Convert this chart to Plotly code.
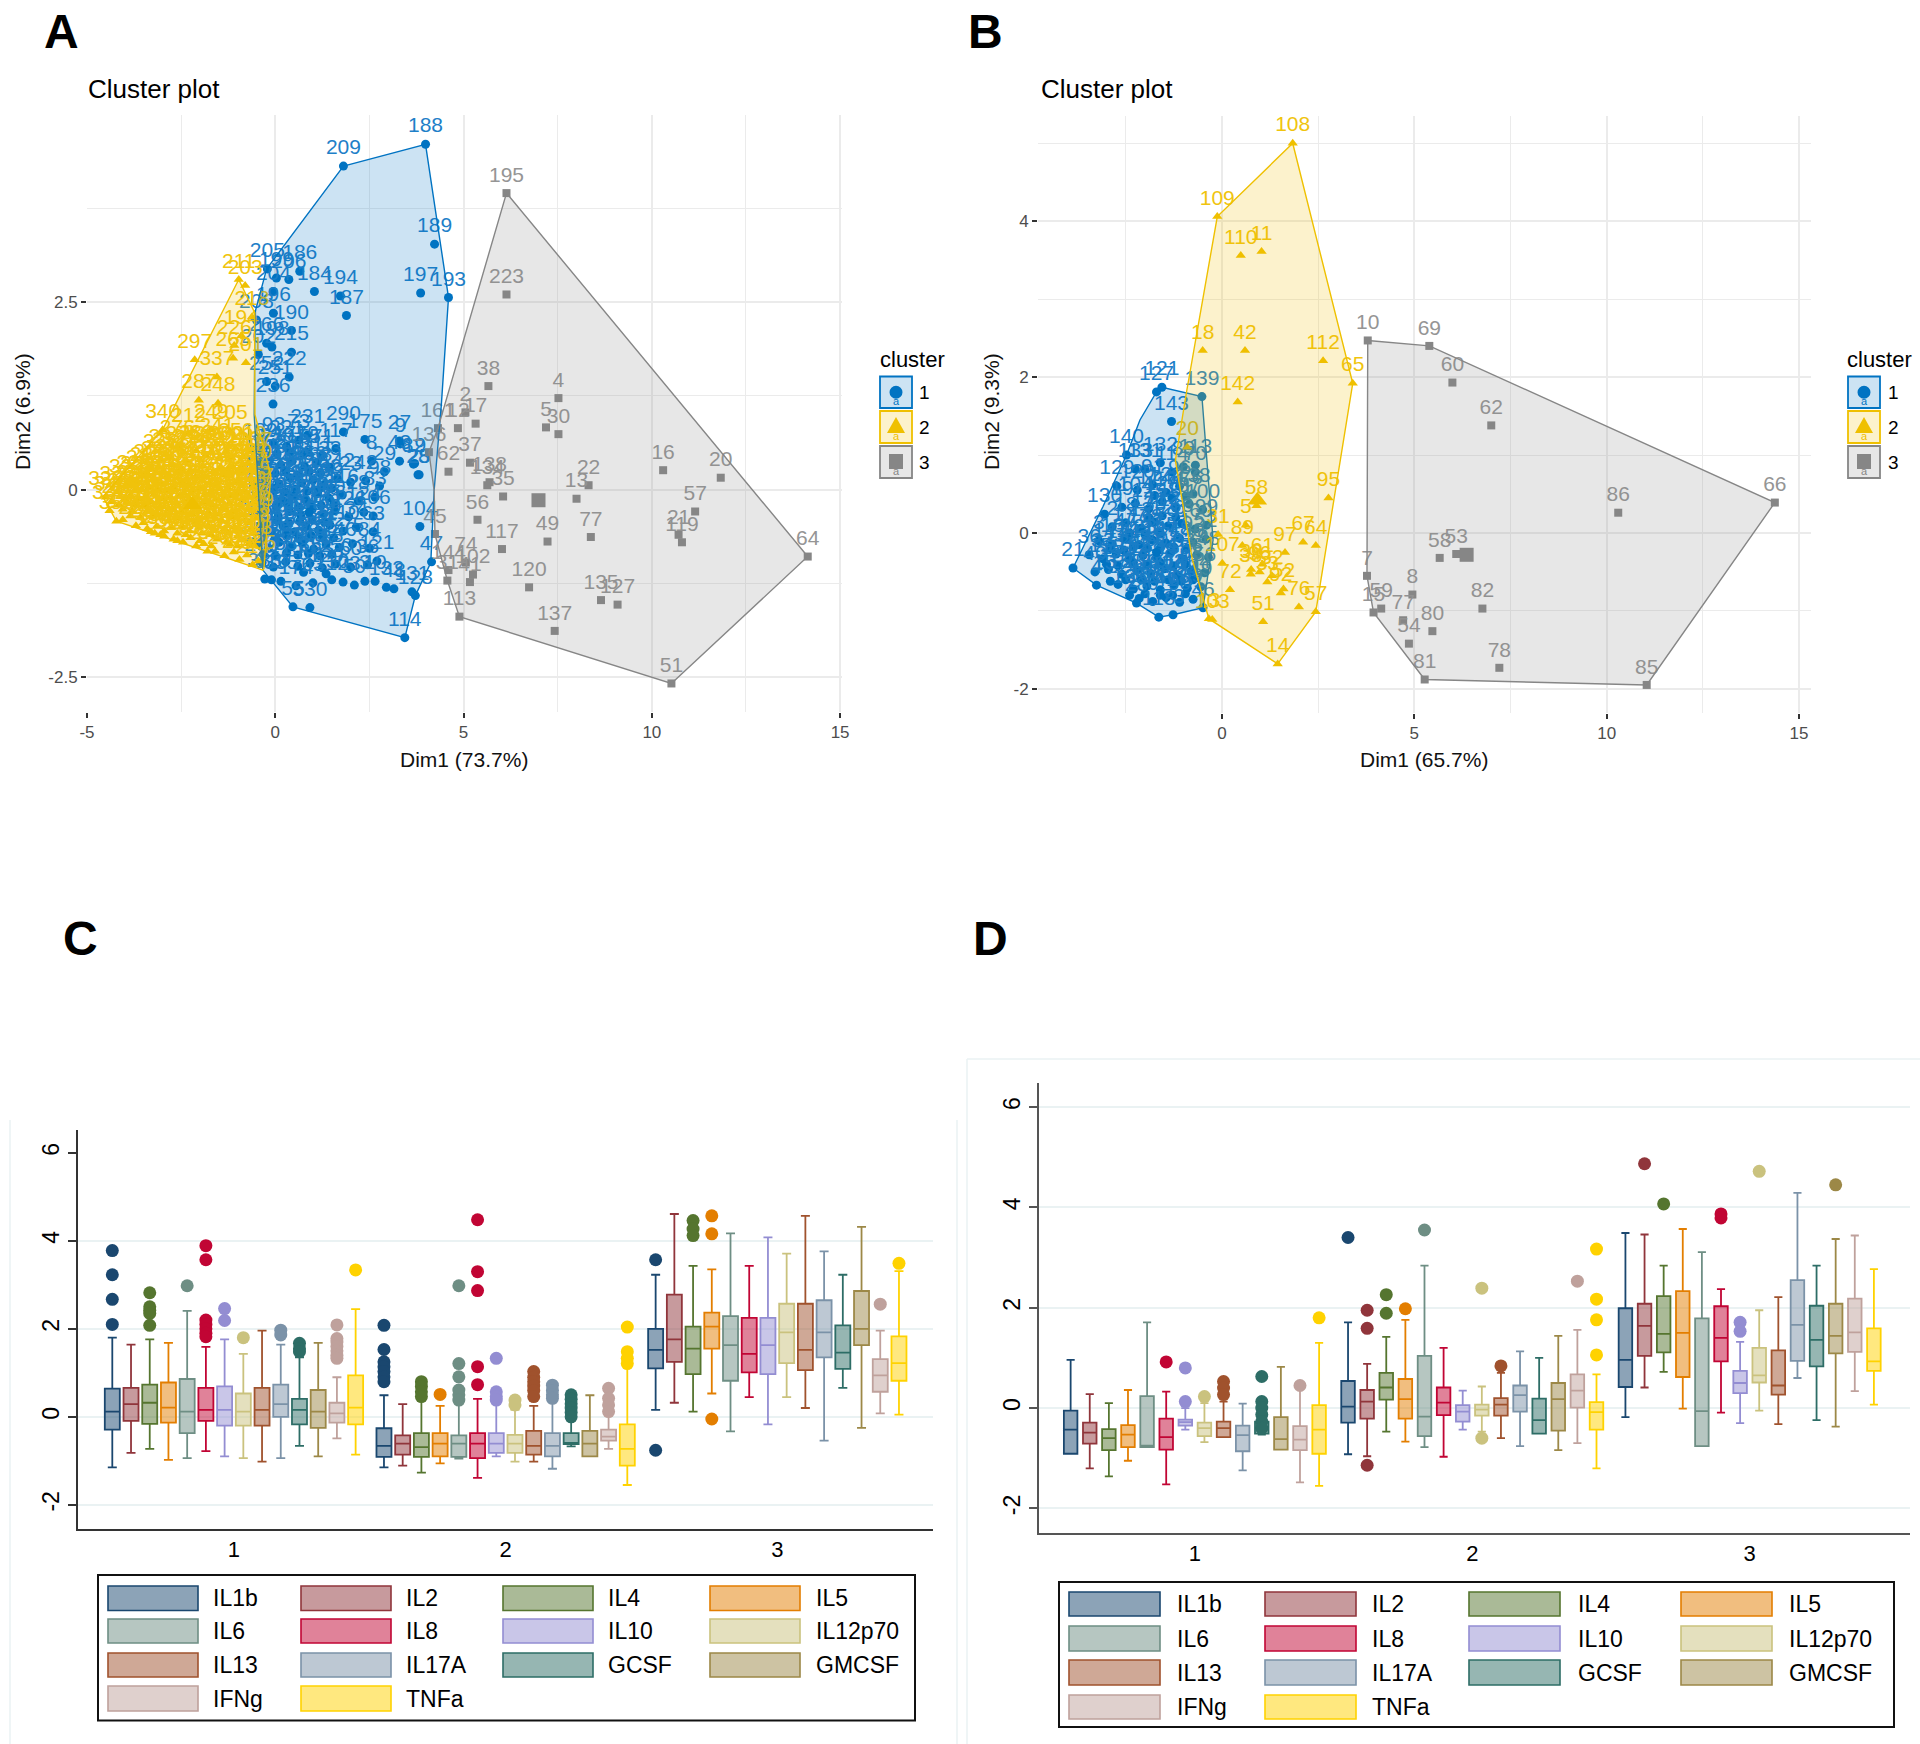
import plotly.graph_objects as go

W, H = 1920, 1744
FONT = "Liberation Sans"
BLUE, YELLOW, GRAY = "#0073C2", "#EFC000", "#868686"
BLUE_T, YELLOW_T, GRAY_T = "#1E80C8", "#F0C40E", "#959595"

# ---------- Panel A data ----------
a_hull1_x = [1.81, 3.99, 4.6, 4.41, 4.22, 4.13, 3.72, 3.44, 0.47, -0.33, -0.56, -0.54, -0.23]
a_hull1_y = [4.31, 4.6, 2.56, 1.13, 0.0, -0.97, -1.41, -1.97, -1.56, -1.07, 1.0, 2.36, 2.94]
a_hull2_x = [-0.97, -0.55, -0.54, -0.12, -0.3, -0.33, -4.22, -4.58, -2.99]
a_hull2_y = [2.8, 2.36, 1.0, 0.2, -1.05, -1.07, -0.42, -0.09, 0.8]
a_hull3_x = [6.14, 14.14, 10.52, 4.89, 4.57, 4.24, 4.22, 4.08, 4.32]
a_hull3_y = [3.95, -0.89, -2.58, -1.69, -1.21, -0.59, -0.02, 0.5, 0.82]

a_c1_x = [1.81, 3.99, 4.23, 4.6, 3.86, 1.89, 1.73, 1.04, 0.65, -0.21, 0.03, 0.36,
          -0.05, -0.05, 0.43, -0.5, -0.23, -0.09, 0.43, -0.45, 0.37, 0.0, -0.23, -0.06,
          1.81, 0.86, 2.38, 3.3, 1.61, 2.56, 3.3, 3.7, 3.82, 2.9, 1.25, 0.85,
          3.79, 3.67, 3.32, 3.84, 4.15, 3.72, 3.63, 3.44, 0.47, 0.92,
          -0.4, -0.05, 0.3, 0.62,
          -0.45, -0.15, 0.15, 0.45, 0.78, 1.1, 1.45,
          -0.5, -0.2, 0.1, 0.4, 0.7, 1.0, 1.3, 1.65, 2.0, 2.4, 2.77,
          -0.42, -0.12, 0.18, 0.5, 0.8, 1.12, 1.42, 1.78, 2.2, 2.65,
          -0.5, -0.22, 0.08, 0.38, 0.68, 0.98, 1.28, 1.58, 1.95, 2.35, 2.6,
          -0.4, -0.1, 0.2, 0.52, 0.82, 1.15, 1.45, 1.8, 2.15, 2.6,
          -0.48, -0.18, 0.1, 0.42, 0.72, 1.02, 1.35, 1.7, 2.05, 2.5,
          -0.35, -0.05, 0.28, 0.6, 0.92, 1.25, 1.6, 2.0, 2.45, 2.7,
          0.15, 0.55, 1.0, 1.5, 2.1, 1.8,
          0.05, 0.4, 0.75,
          -0.3, 0.0, 0.28, 0.6, 0.9, 1.2,
          -0.35, -0.05, 0.25, 0.55, 0.85, 1.15, 1.5,
          -0.28, 0.02, 0.32, 0.62, 0.92, 1.22, 1.55,
          -0.25, 0.05, 0.35, 0.65, 0.98, 1.3,
          -0.3, 0.0, 0.3, 0.62, 0.95, 1.25, 1.55,
          -0.32, 0.0, 0.3, 0.6, 0.88, 1.18, 1.5,
          -0.28, -0.1, 0.75, 1.35, 2.38, 2.65, 2.95, 3.15]
a_c1_y = [4.31, 4.6, 3.27, 2.56, 2.62, 2.32, 2.58, 2.64, 2.91, 2.94, 2.82, 2.8,
          2.64, 2.35, 2.12, 2.26, 1.95, 1.9, 1.83, 1.8, 1.5, 1.38, 1.44, 1.14,
          0.77, 0.73, 0.67, 0.65, 0.55, 0.38, 0.38, 0.35, 0.2, 0.24, 0.46, 0.5,
          0.2, 0.34, 0.61, -0.49, -0.96, -1.41, -1.36, -1.97, -1.56, -1.57,
          0.55, 0.62, 0.58, 0.66,
          0.34, 0.4, 0.33, 0.38, 0.31, 0.36, 0.3,
          0.1, 0.14, 0.08, 0.16, 0.09, 0.13, 0.07, 0.15, 0.1, 0.12, 0.05,
          -0.12, -0.06, -0.14, -0.08, -0.13, -0.05, -0.11, -0.07, -0.15, -0.1,
          -0.33, -0.27, -0.35, -0.29, -0.34, -0.26, -0.32, -0.28, -0.36, -0.3, -0.35,
          -0.5, -0.55, -0.48, -0.56, -0.49, -0.54, -0.47, -0.55, -0.5, -0.56,
          -0.72, -0.78, -0.7, -0.76, -0.71, -0.79, -0.73, -0.77, -0.72, -0.78,
          -0.97, -1.03, -0.96, -1.02, -0.98, -1.04, -0.99, -1.03, -1.0, -0.95,
          -1.22, -1.28, -1.24, -1.2, -1.27, -1.23,
          0.48, 0.5, 0.47,
          0.24, 0.22, 0.25, 0.2, 0.24, 0.22,
          0.0, 0.02, -0.03, 0.01, -0.02, 0.0, 0.02,
          -0.2, -0.22, -0.18, -0.23, -0.19, -0.21, -0.2,
          -0.42, -0.41, -0.44, -0.42, -0.4, -0.43,
          -0.62, -0.64, -0.6, -0.65, -0.61, -0.63, -0.64,
          -0.86, -0.88, -0.84, -0.87, -0.85, -0.88, -0.86,
          -1.19, -1.2, -1.1, -1.12, -1.22, -1.22, -1.3, -1.32]
a_c1_lab = [209, 188, 189, 193, 197, 187, 194, 184, 186, 205, 199, 206,
            204, 196, 190, 208, 266, 198, 215, 202, 222, 251, 252, 236,
            290, 231, 175, 27, 117, 8, 43, 19, 25, 29, 71, 79,
            28, 82, 9, 104, 47, 128, 131, 114, 55, 530,
            189, 93, 221, 73,
            94, 268, 161, 230, 81, 311, 33,
            224, 301, 142, 46, 233, 116, 232, 142, 23, 42, 98,
            26, 91, 170, 54, 255, 143, 52, 116, 28, 83,
            263, 158, 90, 72, 143, 240, 178, 76, 126, 124, 106,
            267, 176, 24, 61, 145, 127, 89, 110, 34, 63,
            269, 182, 66, 118, 235, 167, 95, 246, 75, 84,
            230, 147, 53, 150, 88, 65, 250, 60, 36, 121,
            335, 174, 63, 130, 50, 123,
            239, 171, 155,
            264, 183, 112, 92, 156, 68,
            277, 192, 108, 58, 149, 85, 39,
            281, 165, 97, 67, 140, 86, 40,
            288, 172, 109, 69, 146, 59,
            299, 191, 115, 70, 152, 44, 32,
            303, 177, 103, 74, 148, 78, 18,
            333, 310, 6, 129, 3, 10, 132, 48]

a_c2_x = [-0.97, -0.8, -0.62, -0.9, -1.09, -2.14, -1.55, -1.12, -0.78, -2.03, -1.52, -2.99, -2.3, -1.7, -1.2,
          -2.6, -2.1, -1.55, -1.05, -0.7,
          -3.05, -2.72, -2.35, -1.92, -1.5, -1.12, -0.72,
          -3.5, -3.18, -2.85, -2.48, -2.12, -1.75, -1.38, -1.0, -0.65,
          -4.2, -3.85, -3.55, -3.22, -2.9, -2.55, -2.2, -1.85, -1.5, -1.18, -0.82, -0.5,
          -4.5, -4.05, -3.72, -3.4, -3.05, -2.7, -2.35, -2.0, -1.65, -1.3, -0.95, -0.6,
          -4.05, -3.5, -3.15, -2.82, -2.45, -2.1, -1.78, -1.42, -1.08, -0.72,
          -2.95, -2.6, -2.25, -1.9, -1.55, -1.2, -0.85, -0.55,
          -1.8, -1.35, -0.95, -0.6,
          -2.9, -2.45, -1.85, -1.3, -0.85, -0.55,
          -3.3, -2.98, -2.6, -2.25, -1.65, -1.25, -0.88, -0.55,
          -3.95, -3.65, -3.35, -3.02, -2.7, -2.33, -1.98, -1.6, -1.25, -0.9, -0.58,
          -4.35, -3.95, -3.6, -3.3, -2.98, -2.62, -2.28, -1.92, -1.58, -1.22, -0.88, -0.53,
          -4.22, -3.85, -3.58, -3.25, -2.9, -2.55, -2.2, -1.85, -1.5, -1.15, -0.8, -0.5,
          -3.3, -2.95, -2.6, -2.28, -1.95, -1.62, -1.25, -0.92, -0.58,
          -2.1, -1.6, -1.1, -0.75, -3.2, -2.7, -0.45,
          -3.75, -3.4, -3.1, -2.8, -2.5, -2.2, -2.0, -1.7, -1.45, -1.15, -0.95, -0.65,
          -4.0, -3.75, -3.45, -3.12, -2.78, -2.42, -2.08, -1.72, -1.35, -1.02, -0.7,
          -4.4, -4.15, -3.8, -3.48, -3.15, -2.82, -2.48, -2.12, -1.78, -1.42, -1.08, -0.72,
          -3.7, -3.4, -3.05, -2.75, -2.38, -2.02, -1.7, -1.35, -1.0, -0.65,
          -2.45, -2.0, -1.7, -1.3, -1.0, -0.7]
a_c2_y = [2.8, 2.72, 2.3, 2.05, 1.92, 1.73, 1.5, 1.75, 1.69, 1.19, 1.15, 0.8, 0.75, 0.8, 0.78,
          0.58, 0.52, 0.61, 0.55, 0.5,
          0.4, 0.33, 0.38, 0.31, 0.42, 0.3, 0.36,
          0.18, 0.12, 0.2, 0.1, 0.17, 0.09, 0.19, 0.11, 0.16,
          -0.03, -0.08, 0.0, -0.06, -0.02, -0.09, -0.01, -0.07, 0.01, -0.08, -0.03, -0.06,
          -0.1, -0.26, -0.2, -0.28, -0.22, -0.27, -0.19, -0.29, -0.21, -0.27, -0.2, -0.28,
          -0.4, -0.44, -0.49, -0.42, -0.5, -0.43, -0.48, -0.41, -0.5, -0.44,
          -0.62, -0.68, -0.64, -0.72, -0.66, -0.73, -0.67, -0.75,
          -0.82, -0.88, -0.93, -1.0,
          0.47, 0.5, 0.46, 0.51, 0.44, 0.42,
          0.27, 0.24, 0.22, 0.26, 0.24, 0.27, 0.22, 0.26,
          0.06, 0.1, 0.04, 0.08, 0.03, 0.06, 0.02, 0.07, 0.02, 0.05, 0.04,
          -0.16, -0.17, -0.13, -0.16, -0.12, -0.18, -0.12, -0.17, -0.13, -0.18, -0.12, -0.17,
          -0.42, -0.35, -0.37, -0.35, -0.34, -0.38, -0.33, -0.37, -0.33, -0.37, -0.34, -0.38,
          -0.56, -0.55, -0.58, -0.55, -0.58, -0.54, -0.58, -0.55, -0.58,
          -0.75, -0.82, -0.83, -0.87, -0.58, -0.66, -0.95,
          0.12, 0.22, 0.3, 0.42, 0.28, 0.45, 0.4, 0.5, 0.3, 0.42, 0.28, 0.28,
          -0.12, -0.02, -0.1, 0.0, -0.1, -0.05, -0.1, -0.03, -0.1, -0.06, -0.1,
          -0.28, -0.2, -0.28, -0.2, -0.33, -0.26, -0.3, -0.25, -0.3, -0.25, -0.3, -0.26,
          -0.48, -0.52, -0.6, -0.5, -0.6, -0.5, -0.6, -0.52, -0.62, -0.52,
          -0.7, -0.68, -0.75, -0.7, -0.75, -0.72]
a_c2_lab = [211, 203, 218, 194, 226, 297, 337, 265, 201, 287, 248, 340, 212, 249, 205,
            276, 283, 241, 256, 219,
            327, 298, 305, 278, 284, 259, 229,
            316, 334, 293, 304, 282, 271, 245, 258, 227,
            329, 338, 312, 321, 296, 286, 273, 261, 244, 239, 225, 217,
            339, 332, 324, 318, 302, 291, 280, 274, 253, 247, 237, 216,
            336, 328, 319, 306, 294, 285, 270, 254, 243, 228,
            309, 295, 279, 262, 257, 238, 220, 213,
            272, 260, 242, 214,
            292, 275, 289, 200, 210, 207,
            307, 300, 308, 313, 314, 315, 317, 320,
            322, 323, 325, 326, 330, 331, 341, 342, 343, 344, 345,
            346, 347, 348, 349, 350, 351, 352, 353, 354, 355, 356, 357,
            358, 359, 360, 361, 362, 363, 364, 365, 366, 367, 368, 369,
            370, 371, 372, 373, 374, 375, 376, 377, 378,
            379, 380, 381, 382, 383, 384, 385,
            228, 235, 243, 252, 261, 274, 285, 296, 305, 318, 326, 337,
            213, 224, 238, 247, 256, 269, 278, 289, 302, 314, 323,
            331, 219, 229, 241, 253, 264, 277, 288, 299, 307, 316, 328,
            221, 233, 246, 258, 267, 279, 292, 303, 315, 325,
            234, 248, 259, 272, 283, 294]

a_c3_x = [6.14, 6.14, 5.66, 7.52, 5.05, 5.32, 4.85, 7.19, 7.52, 5.17, 4.6, 4.08, 5.69, 5.63, 6.05,
          8.32, 8.0, 10.3, 11.83, 11.15, 10.71, 10.8, 14.14, 5.37, 4.24, 6.02, 7.23, 8.38, 6.74,
          8.65, 9.09, 7.42, 10.52, 4.89, 5.06, 5.25, 5.17, 4.6, 4.57, 4.32]
a_c3_y = [3.95, 2.6, 1.38, 1.22, 1.03, 0.88, 0.82, 0.83, 0.74, 0.36, 0.24, 0.5, 0.1, 0.06, -0.09,
          0.06, -0.12, 0.26, 0.16, -0.29, -0.6, -0.7, -0.89, -0.4, -0.59, -0.79, -0.69, -0.63, -1.3,
          -1.47, -1.53, -1.88, -2.58, -1.69, -0.97, -1.13, -1.23, -1.07, -1.21, 0.82]
a_c3_lab = [195, 223, 38, 4, 2, 17, 12, 5, 30, 37, 62, 136, 138, 134, 35,
            22, 13, 16, 20, 57, 21, 119, 64, 56, 45, 117, 49, 77, 120,
            135, 127, 137, 51, 113, 74, 102, 41, 144, 31, 161]
a_center_x = [0.9, -2.2, 6.99]
a_center_y = [-0.3, -0.2, -0.14]

# ---------- Panel B data ----------
b_hull1_x = [-3.87, -3.26, -2.22, -1.64, -1.27, -0.49, -0.23, -0.52, -1.56, -1.7, -2.13, -2.48, -3.09]
b_hull1_y = [-0.45, -0.67, -0.9, -1.08, -1.05, -0.96, -0.09, 1.75, 1.87, 1.81, 1.45, 1.0, 0.34]
b_hull2_x = [1.84, 3.4, 2.44, 1.45, -0.34, -0.77, -1.21, -0.93, -0.12]
b_hull2_y = [5.0, 1.92, -1.01, -1.68, -1.1, -0.34, 0.93, 1.78, 4.06]
b_hull3_x = [3.79, 5.39, 14.37, 11.04, 5.27, 3.94, 3.77]
b_hull3_y = [2.47, 2.4, 0.39, -1.95, -1.88, -1.02, -0.55]

b_c1_x = [-1.56, -1.7, -0.52, -1.31, -0.69, -0.69, -2.48, -2.25, -2.73, -3.05, -3.87, -3.26,
          -2.22, -1.64, -1.27, -0.49,
          -2.2, -1.8, -1.45, -1.1, -0.75,
          -2.6, -2.25, -1.9, -1.55, -1.2, -0.85, -0.5,
          -2.85, -2.5, -2.1, -1.75, -1.4, -1.05, -0.7, -0.4,
          -3.2, -2.85, -2.5, -2.15, -1.8, -1.45, -1.1, -0.75, -0.42,
          -3.45, -3.1, -2.75, -2.4, -2.05, -1.7, -1.35, -1.0, -0.65, -0.35,
          -3.3, -2.95, -2.6, -2.2, -1.85, -1.5, -1.15, -0.8, -0.45,
          -2.7, -2.3, -1.95, -1.6, -1.25, -0.9, -0.55,
          -2.15, -1.8, -1.45, -1.1, -0.75,
          -2.0, -1.6, -1.3, -1.0,
          -2.9, -2.55, -2.3, -1.95, -1.6, -1.25, -0.9,
          -3.0, -2.7, -2.3, -1.95, -1.6, -1.25, -0.95,
          -2.9, -2.5, -2.1, -1.75, -1.4, -1.05, -0.75,
          -2.4, -2.0, -1.6, -1.28, -0.95,
          -1.9, -1.55, -1.2, -1.75, -1.3, -0.95, -2.4, -2.0, -1.6]
b_c1_y = [1.87, 1.81, 1.75, 1.43, 0.87, 0.78, 1.0, 0.82, 0.6, 0.24, -0.45, -0.67,
          -0.9, -1.08, -1.05, -0.96,
          0.55, 0.62, 0.52, 0.6, 0.5,
          0.33, 0.38, 0.31, 0.4, 0.32, 0.37, 0.3,
          0.08, 0.13, 0.06, 0.14, 0.09, 0.12, 0.05, 0.1,
          -0.1, -0.14, -0.08, -0.15, -0.09, -0.13, -0.07, -0.12, -0.08,
          -0.28, -0.33, -0.27, -0.34, -0.29, -0.32, -0.26, -0.33, -0.28, -0.31,
          -0.5, -0.47, -0.53, -0.48, -0.52, -0.46, -0.54, -0.49, -0.51,
          -0.66, -0.72, -0.68, -0.73, -0.67, -0.71, -0.69,
          -0.84, -0.88, -0.83, -0.89, -0.85,
          0.82, 0.9, 0.78, 0.85,
          -0.2, -0.22, -0.18, -0.2, -0.19, -0.18, -0.2,
          -0.4, -0.42, -0.38, -0.41, -0.38, -0.42, -0.4,
          -0.62, -0.6, -0.6, -0.62, -0.6, -0.62, -0.6,
          -0.8, -0.78, -0.8, -0.8, -0.78,
          0.2, 0.22, 0.2, 0.48, 0.45, 0.47, 0.0, -0.02, 0.0]
b_c1_lab = [121, 127, 139, 143, 113, 70, 140, 133, 129, 130, 21, 4,
            28, 118, 73, 46,
            120, 91, 122, 96, 138,
            19, 104, 125, 128, 101, 87, 100,
            2, 18, 12, 35, 126, 68, 160, 99,
            3, 16, 47, 123, 37, 55, 71, 92, 52,
            36, 33, 17, 24, 134, 50, 75, 83, 29, 48,
            40, 39, 25, 44, 93, 88, 74, 63, 56,
            22, 26, 136, 98, 79, 84, 49,
            27, 6, 41, 90, 61,
            131, 132, 114, 89,
            141, 144, 145, 146, 147, 148, 149,
            150, 151, 152, 153, 154, 155, 156,
            157, 158, 159, 161, 162, 163, 164,
            165, 166, 167, 168, 169,
            171, 172, 173, 174, 175, 176, 177, 178, 179]

b_c2_x = [1.84, -0.12, 0.49, 1.03, -0.5, 0.6, 2.63, 3.4, 0.41, 2.77, 2.11, 2.44, 1.64, 2.44, 2.0, 1.07, 1.45,
          -0.34, 0.21, 0.01, -0.25, 0.53, 0.75, 0.98, 1.05, 1.18, 1.3, 1.53, 1.6, 0.76, -0.9, 0.62, 0.9, -0.1]
b_c2_y = [5.0, 4.06, 3.56, 3.61, 2.34, 2.34, 2.21, 1.92, 1.68, 0.45, -0.12, -0.16, -0.25, -1.01, -0.95, -1.14, -1.68,
          -1.1, -0.73, -0.39, -1.11, -0.16, -0.53, -0.5, -0.4, -0.63, -0.55, -0.77, -0.72, -0.47, 1.1, 0.1, 0.35, -0.02]
b_c2_lab = [108, 109, 110, 11, 18, 42, 112, 65, 142, 95, 67, 64, 97, 57, 76, 51, 14,
            13, 72, 107, 103, 89, 38, 96, 61, 33, 32, 92, 52, 39, 20, 5, 58, 31]

b_c3_x = [14.37, 11.04, 5.27, 7.21, 3.79, 5.39, 5.99, 7.0, 10.3, 6.09, 5.66, 6.77, 4.95, 3.77, 4.14, 3.94, 4.71, 5.47, 4.86]
b_c3_y = [0.39, -1.95, -1.88, -1.73, 2.47, 2.4, 1.93, 1.38, 0.26, -0.27, -0.32, -0.97, -0.79, -0.55, -0.97, -1.02, -1.12, -1.26, -1.42]
b_c3_lab = [66, 85, 81, 78, 10, 69, 60, 62, 86, 53, 58, 82, 8, 7, 59, 15, 77, 80, 54]
b_center_x = [-1.7, 0.92, 6.36]
b_center_y = [-0.25, 0.42, -0.28]

# ---------- Box plots ----------
series = ["IL1b", "IL2", "IL4", "IL5", "IL6", "IL8", "IL10", "IL12p70", "IL13", "IL17A", "GCSF", "GMCSF", "IFNg", "TNFa"]
colors = ["#1A476F", "#90353B", "#55752F", "#E37E00", "#6E8E84", "#C10534", "#938DD2",
          "#CAC27E", "#A0522D", "#7B92A8", "#2D6D66", "#9C8847", "#BFA19C", "#FFD200"]
groups = [1, 2, 3]

c_g1_high = [1.80, 1.64, 1.76, 1.68, 2.41, 1.59, 1.76, 1.43, 1.96, 1.64, 1.35, 1.68, 0.9, 2.45]
c_g1_q3 = [0.64, 0.66, 0.73, 0.78, 0.86, 0.66, 0.69, 0.53, 0.66, 0.73, 0.41, 0.61, 0.32, 0.94]
c_g1_med = [0.12, 0.29, 0.32, 0.21, 0.12, 0.16, 0.16, 0.12, 0.16, 0.29, 0.16, 0.12, 0.08, 0.21]
c_g1_q1 = [-0.29, -0.09, -0.16, -0.13, -0.37, -0.09, -0.2, -0.2, -0.2, 0.0, -0.17, -0.25, -0.13, -0.17]
c_g1_low = [-1.15, -0.82, -0.73, -0.98, -0.94, -0.78, -0.9, -0.94, -1.02, -0.94, -0.66, -0.9, -0.49, -0.86]
c_g1_out = [[3.78, 3.23, 2.67, 2.1], [], [2.82, 2.5, 2.42, 2.35, 2.08], [], [2.98],
            [3.89, 3.57, 2.2, 2.1, 2.0, 1.9, 1.82], [2.46, 2.19], [1.8], [], [1.97, 1.86],
            [1.67, 1.55, 1.48], [], [2.09, 1.78, 1.7, 1.6, 1.5, 1.4, 1.33], [3.34]]

c_g2_high = [0.49, 0.29, 0.41, 0.25, 0.32, 0.41, 0.31, 0.16, 0.25, 0.33, -0.07, 0.49, 0.05, 1.14]
c_g2_q3 = [-0.26, -0.42, -0.37, -0.37, -0.42, -0.37, -0.37, -0.41, -0.32, -0.37, -0.37, -0.32, -0.29, -0.17]
c_g2_med = [-0.66, -0.61, -0.69, -0.61, -0.61, -0.61, -0.61, -0.61, -0.66, -0.66, -0.59, -0.61, -0.45, -0.73]
c_g2_q1 = [-0.91, -0.86, -0.91, -0.9, -0.91, -0.94, -0.82, -0.82, -0.86, -0.9, -0.62, -0.9, -0.54, -1.11]
c_g2_low = [-1.15, -1.11, -1.27, -1.06, -0.95, -1.39, -0.9, -1.02, -1.02, -1.18, -0.67, -0.9, -0.73, -1.55]
c_g2_out = [[2.08, 1.53, 1.25, 1.14, 1.03, 0.91, 0.8], [], [0.8, 0.69, 0.57, 0.46], [0.51],
            [6.82, 2.98, 1.21, 0.91, 0.61, 0.5, 0.38], [4.48, 3.3, 2.87, 1.14, 0.73], [1.33, 0.57, 0.46, 0.38],
            [0.38, 0.27], [1.03, 0.9, 0.8, 0.7, 0.6, 0.46], [0.72, 0.6, 0.5, 0.42],
            [0.5, 0.4, 0.3, 0.2, 0.1, 0.0], [], [0.65, 0.42, 0.27, 0.12], [2.04, 1.48, 1.33, 1.21]]

c_g3_high = [3.23, 4.61, 3.43, 3.35, 4.17, 3.43, 4.08, 3.71, 4.57, 3.76, 3.23, 4.32, 1.96, 3.31]
c_g3_q3 = [2.0, 2.78, 2.05, 2.37, 2.29, 2.25, 2.25, 2.57, 2.57, 2.65, 2.08, 2.86, 1.31, 1.83]
c_g3_med = [1.52, 1.76, 1.55, 2.05, 1.63, 1.43, 1.63, 1.92, 1.52, 1.92, 1.46, 2.0, 0.94, 1.22]
c_g3_q1 = [1.1, 1.25, 0.97, 1.55, 0.82, 1.01, 0.97, 1.22, 1.06, 1.35, 1.09, 1.63, 0.57, 0.82]
c_g3_low = [0.16, 0.32, 0.12, 0.53, -0.33, 0.45, -0.17, 0.45, 0.2, -0.54, 0.66, -0.25, 0.08, 0.05]
c_g3_out = [[3.57, -0.76], [6.82], [4.46, 4.27, 4.12], [4.57, 4.16, -0.05], [], [], [], [], [], [], [], [], [2.56], [3.49]]

d_g1_high = [0.96, 0.28, 0.1, 0.36, 1.71, 0.33, 0.0, 0.1, 0.13, 0.09, -0.03, 0.82, 0.4, 1.3]
d_g1_q3 = [-0.05, -0.29, -0.42, -0.34, 0.24, -0.21, -0.23, -0.29, -0.27, -0.35, -0.27, -0.18, -0.36, 0.06]
d_g1_med = [-0.43, -0.49, -0.6, -0.53, -0.75, -0.58, -0.28, -0.4, -0.4, -0.54, -0.4, -0.62, -0.63, -0.43]
d_g1_q1 = [-0.91, -0.71, -0.84, -0.78, -0.78, -0.83, -0.35, -0.56, -0.58, -0.86, -0.51, -0.83, -0.84, -0.91]
d_g1_low = [-0.91, -1.2, -1.36, -1.05, -0.78, -1.52, -0.43, -0.68, -0.58, -1.24, -0.53, -0.83, -1.48, -1.55]
d_g1_out = [[], [], [], [], [], [0.92], [0.8, 0.13], [0.23], [0.53, 0.4, 0.27], [],
            [0.63, 0.13, 0.0, -0.13, -0.27, -0.4], [], [0.45], [1.8]]

d_g2_high = [1.71, 0.88, 1.42, 1.76, 2.84, 1.2, 0.35, 0.43, 0.7, 1.13, 1.0, 1.44, 1.56, 0.67]
d_g2_q3 = [0.54, 0.36, 0.7, 0.58, 1.04, 0.41, 0.06, 0.07, 0.2, 0.45, 0.19, 0.5, 0.67, 0.12]
d_g2_med = [0.03, 0.13, 0.41, 0.18, -0.17, 0.11, -0.07, -0.03, 0.07, 0.26, -0.24, 0.18, 0.35, -0.08]
d_g2_q1 = [-0.29, -0.21, 0.17, -0.21, -0.56, -0.14, -0.27, -0.15, -0.15, -0.07, -0.51, -0.45, 0.01, -0.43]
d_g2_low = [-0.92, -0.96, -0.47, -0.67, -0.78, -0.97, -0.43, -0.47, -0.6, -0.76, -0.51, -0.84, -0.7, -1.2]
d_g2_out = [[3.4], [1.95, 1.59, -1.14], [2.26, 1.89], [1.98], [3.55], [], [], [2.39, -0.6], [0.84], [], [], [], [2.53],
            [3.17, 2.17, 1.76, 1.06]]

d_g3_high = [3.49, 3.46, 2.84, 3.57, 3.11, 2.37, 1.32, 1.95, 2.21, 4.29, 2.84, 3.37, 3.44, 2.77]
d_g3_q3 = [1.99, 2.08, 2.23, 2.33, 1.79, 2.03, 0.74, 1.2, 1.15, 2.55, 2.04, 2.08, 2.18, 1.59]
d_g3_med = [0.96, 1.64, 1.48, 1.5, -0.06, 1.4, 0.5, 0.65, 0.45, 1.66, 1.36, 1.44, 1.51, 0.93]
d_g3_q1 = [0.42, 1.04, 1.11, 0.62, -0.76, 0.93, 0.3, 0.51, 0.27, 0.94, 0.83, 1.09, 1.12, 0.74]
d_g3_low = [-0.18, 0.41, 0.72, -0.01, -0.76, -0.09, -0.3, -0.05, -0.32, 0.6, -0.24, -0.37, 0.34, 0.07]
d_g3_out = [[], [4.87], [4.07], [], [], [3.87, 3.79], [1.71, 1.53], [4.72], [], [], [], [4.45], [], []]

legend_rows = [series[0:4], series[4:8], series[8:12], series[12:14]]


# the page draws the paper 8 px in from each side, so positions are mapped onto that span
def X(p):
    return (p - 8) / (W - 16)


def Y(p):
    return 1 - p / H


def rgba(hexc, a):
    return f"rgba({int(hexc[1:3],16)},{int(hexc[3:5],16)},{int(hexc[5:7],16)},{a})"


fig = go.Figure()
shapes, annos = [], []


def text(x, y, s, size, color="#000000", bold=False, angle=0, xanchor="center"):
    annos.append(dict(x=X(x), y=Y(y), xref="paper", yref="paper", text=f"<b>{s}</b>" if bold else s,
                      showarrow=False, xanchor=xanchor, yanchor="middle", textangle=angle,
                      font=dict(family=FONT, size=size, color=color)))


def rect(x0, y0, x1, y1, line=None, lw=1.0, fill=None, layer="above"):
    shapes.append(dict(type="rect", xref="paper", yref="paper", x0=X(x0), x1=X(x1), y0=Y(y0), y1=Y(y1),
                       line=dict(color=line or "rgba(0,0,0,0)", width=lw if line else 0),
                       fillcolor=fill or "rgba(0,0,0,0)", layer=layer))


def hline(x0, y0, x1, y1, color, lw):
    shapes.append(dict(type="line", xref="paper", yref="paper", x0=X(x0), x1=X(x1), y0=Y(y0), y1=Y(y1),
                       line=dict(color=color, width=lw), layer="below"))


def cluster_panel(xa, ya, hulls, pts, centers):
    sym = ("circle", "triangle-up", "square")
    msize = (9, 9, 8)
    csize = (9, 17, 14)
    for i, (px_, py_, lab) in enumerate(pts):
        c = (BLUE, YELLOW, GRAY)[i]
        t = (BLUE_T, YELLOW_T, GRAY_T)[i]
        fig.add_trace(go.Scatter(x=px_, y=py_, text=[str(v) for v in lab], xaxis=xa, yaxis=ya, mode="markers+text",
                                 textposition="top center", textfont=dict(family=FONT, size=21, color=t),
                                 marker=dict(color=c, symbol=sym[i], size=msize[i], line=dict(width=0)),
                                 showlegend=False, hoverinfo="skip"))
        fig.add_trace(go.Scatter(x=[centers[0][i]], y=[centers[1][i]], xaxis=xa, yaxis=ya, mode="markers",
                                 marker=dict(color=c, symbol=sym[i], size=csize[i], line=dict(width=0)),
                                 showlegend=False, hoverinfo="skip"))
    for (hx, hy), c in zip(hulls, (BLUE, YELLOW, GRAY)):
        fig.add_trace(go.Scatter(x=hx + hx[:1], y=hy + hy[:1], xaxis=xa, yaxis=ya, mode="lines", fill="toself",
                                 fillcolor=rgba(c, 0.2), line=dict(color=c, width=1.4), showlegend=False, hoverinfo="skip"))


cluster_panel("x", "y",
              [(a_hull1_x, a_hull1_y), (a_hull2_x, a_hull2_y), (a_hull3_x, a_hull3_y)],
              [(a_c1_x, a_c1_y, a_c1_lab), (a_c2_x, a_c2_y, a_c2_lab), (a_c3_x, a_c3_y, a_c3_lab)],
              (a_center_x, a_center_y))
cluster_panel("x2", "y2",
              [(b_hull1_x, b_hull1_y), (b_hull2_x, b_hull2_y), (b_hull3_x, b_hull3_y)],
              [(b_c1_x, b_c1_y, b_c1_lab), (b_c2_x, b_c2_y, b_c2_lab), (b_c3_x, b_c3_y, b_c3_lab)],
              (b_center_x, b_center_y))

SLOT = 0.0689


def box_panel(xa, ya, stats, outs, width, lw):
    for i, name in enumerate(series):
        c = colors[i]
        pos = [g + (i - 6.5) * SLOT for g in groups]
        fig.add_trace(go.Box(x=pos,
                             q1=[s[i] for s in stats["q1"]], median=[s[i] for s in stats["med"]],
                             q3=[s[i] for s in stats["q3"]], lowerfence=[s[i] for s in stats["low"]],
                             upperfence=[s[i] for s in stats["high"]],
                             width=width, whiskerwidth=0.6, boxpoints=False, xaxis=xa, yaxis=ya,
                             line=dict(color=c, width=lw), fillcolor=rgba(c, 0.5),
                             name=name, showlegend=False, hoverinfo="skip"))
        ox, oy = [], []
        for p, o in zip(pos, outs):
            for v in o[i]:
                ox.append(p)
                oy.append(v)
        if ox:
            fig.add_trace(go.Scatter(x=ox, y=oy, mode="markers", xaxis=xa, yaxis=ya, cliponaxis=False,
                                     marker=dict(color=c, size=13, line=dict(width=0)),
                                     showlegend=False, hoverinfo="skip"))


box_panel("x3", "y3",
          dict(q1=[c_g1_q1, c_g2_q1, c_g3_q1], med=[c_g1_med, c_g2_med, c_g3_med], q3=[c_g1_q3, c_g2_q3, c_g3_q3],
               low=[c_g1_low, c_g2_low, c_g3_low], high=[c_g1_high, c_g2_high, c_g3_high]),
          [c_g1_out, c_g2_out, c_g3_out], 0.0552, 1.8)
box_panel("x4", "y4",
          dict(q1=[d_g1_q1, d_g2_q1, d_g3_q1], med=[d_g1_med, d_g2_med, d_g3_med], q3=[d_g1_q3, d_g2_q3, d_g3_q3],
               low=[d_g1_low, d_g2_low, d_g3_low], high=[d_g1_high, d_g2_high, d_g3_high]),
          [d_g1_out, d_g2_out, d_g3_out], 0.0488, 1.8)

GRID = "#EBEBEB"


def gg_axis(tickvals, minorvals, rng, dom, anchor):
    return dict(range=rng, domain=dom, anchor=anchor, tickmode="array", tickvals=tickvals,
                ticktext=[str(v) for v in tickvals], ticks="outside", ticklen=5, tickwidth=1.5, tickcolor="#333333",
                tickfont=dict(family=FONT, size=17, color="#4D4D4D"), showgrid=True, gridcolor=GRID, gridwidth=1.5,
                zeroline=False, showline=False,
                minor=dict(tickmode="array", tickvals=minorvals, showgrid=True, gridcolor=GRID, gridwidth=1.2, ticks=""))


def st_y(rng, dom, anchor, grid_vals, lw, color):
    return dict(range=rng, domain=dom, anchor=anchor, tickmode="array", tickvals=[-2, 0, 2, 4, 6],
                ticktext=["-2", "0", "2", "4", "6"], tickangle=-90, ticks="outside", ticklen=8, tickwidth=1.5,
                tickcolor=color, tickfont=dict(family=FONT, size=23, color="#000000"), showgrid=False, zeroline=False,
                showline=True, linecolor=color, linewidth=lw,
                minor=dict(tickmode="array", tickvals=grid_vals, showgrid=True, gridcolor="#EAF2F3", gridwidth=1.5, ticks=""))


def st_x(rng, dom, anchor, lw, color):
    return dict(range=rng, domain=dom, anchor=anchor, tickmode="array", tickvals=groups,
                ticktext=[str(g) for g in groups], ticks="", tickfont=dict(family=FONT, size=22, color="#000000"),
                showgrid=False, zeroline=False, showline=True, linecolor=color, linewidth=lw)


layout = dict(
    width=W, height=H, margin=dict(l=0, r=0, t=0, b=0), paper_bgcolor="white", plot_bgcolor="rgba(0,0,0,0)",
    showlegend=False, font=dict(family=FONT),
    xaxis=gg_axis([-5, 0, 5, 10, 15], [-2.5, 2.5, 7.5, 12.5], [-5.0, 15.05], [X(87), X(842)], "y"),
    yaxis=gg_axis([-2.5, 0, 2.5], [-1.25, 1.25, 3.75], [-2.96, 4.99], [Y(712), Y(115)], "x"),
    xaxis2=gg_axis([0, 5, 10, 15], [-2.5, 2.5, 7.5, 12.5], [-4.78, 15.31], [X(1038), X(1811)], "y2"),
    yaxis2=gg_axis([-2, 0, 2, 4], [-1, 1, 3, 5], [-2.31, 5.35], [Y(713), Y(116)], "x2"),
    xaxis3=st_x([0.427, 3.572], [X(78.3), X(932.7)], "y3", 2, "#333333"),
    yaxis3=st_y([-2.55, 6.52], [Y(1529), Y(1130)], "x3", [-2, 0, 2, 4], 2, "#333333"),
    xaxis4=st_x([0.437, 3.578], [X(1038.7), X(1910)], "y4", 1.5, "#555555"),
    yaxis4=st_y([-2.49, 6.48], [Y(1533), Y(1083)], "x4", [-2, 0, 2, 4, 6], 1.5, "#555555"),
)

# panel titles, letters, axis titles
for s, x, y in (("A", 61, 31), ("B", 986, 31), ("C", 80, 939), ("D", 990, 939)):
    text(x, y, s, 48, bold=True)
text(86, 89, "Cluster plot", 26, xanchor="left")
text(1039, 89, "Cluster plot", 26, xanchor="left")
text(464, 759, "Dim1 (73.7%)", 21, color="#111111")
text(1424, 759, "Dim1 (65.7%)", 21, color="#111111")
text(23, 412, "Dim2 (6.9%)", 21, color="#111111", angle=-90)
text(992, 412, "Dim2 (9.3%)", 21, color="#111111", angle=-90)


# cluster legends
def cluster_legend(bx, tx, lx):
    text(tx, 359, "cluster", 22, xanchor="left")
    rows = [(376.5, 408), (411, 443), (446, 478)]
    for k, (y0, y1) in enumerate(rows):
        c = (BLUE, YELLOW, GRAY)[k]
        rect(bx, y0, bx + 32, y1, line=c, lw=1.8, fill=rgba(c, 0.2))
        cx, cy = bx + 16, (y0 + y1) / 2
        if k == 0:
            shapes.append(dict(type="circle", xref="paper", yref="paper", x0=X(cx - 6.5), x1=X(cx + 6.5),
                               y0=Y(cy - 6.5), y1=Y(cy + 6.5), fillcolor=c, line=dict(width=0)))
        elif k == 1:
            shapes.append(dict(type="path", xref="paper", yref="paper", fillcolor=c, line=dict(width=0),
                               path=f"M {X(cx)} {Y(cy-10)} L {X(cx+9)} {Y(cy+6)} L {X(cx-9)} {Y(cy+6)} Z"))
        else:
            rect(cx - 7, cy - 8, cx + 7, cy + 7, fill=c)
        text(cx, cy + 9, "a", 11, color=c)
        text(lx, cy, str(k + 1), 19, xanchor="left")


cluster_legend(880, 878, 917)
cluster_legend(1848, 1845, 1886)


# box legends
def box_legend(frame, cols, lab_x, rows, key_w):
    rect(*frame, line="#111111", lw=2, fill="white")
    for r, row in enumerate(legend_rows):
        for q, name in enumerate(row):
            c = colors[series.index(name)]
            rect(cols[q], rows[r][0], cols[q] + key_w, rows[r][1], line=c, lw=1.6, fill=rgba(c, 0.5))
            text(lab_x[q], sum(rows[r]) / 2, name, 23, xanchor="left")


box_legend((98, 1575, 915, 1720.5), [108, 301, 503, 710], [211, 404, 606, 814],
           [(1586, 1610.5), (1619, 1643), (1653, 1677), (1686, 1711)], 90)
box_legend((1059, 1582, 1894, 1727), [1069, 1265, 1469, 1681], [1175, 1370, 1576, 1787],
           [(1592, 1616), (1626, 1651), (1660, 1685), (1695, 1719)], 91)

# faint outer frames of C and D
hline(10, 1120, 10, 1744, "#EAF2F3", 1.5)
hline(957, 1120, 957, 1744, "#EAF2F3", 1.5)
hline(967, 1059, 1920, 1059, "#EAF2F3", 1.5)
hline(967, 1059, 967, 1744, "#EAF2F3", 1.5)

# the source image of C is cropped just above the plot
rect(400, 1085, 700, 1120, fill="white")

layout["shapes"] = shapes
layout["annotations"] = annos
fig.update_layout(**layout)
POST = ("var g=document.querySelector('.plotly-graph-div');g.style.position='fixed';g.style.left='0';g.style.top='0';"
        "document.body.style.margin='0';document.body.style.height='0';document.documentElement.style.overflow='hidden';")
fig.write_html("out.html", config={"displayModeBar": False}, post_script=POST)
